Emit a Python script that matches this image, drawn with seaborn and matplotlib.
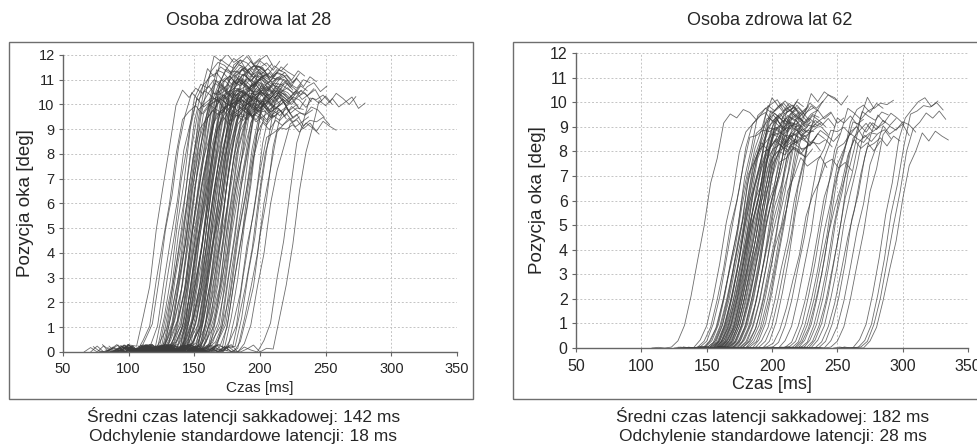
import matplotlib
matplotlib.use('Agg')
import matplotlib.pyplot as plt
import matplotlib.patches as patches
import numpy as np
import pandas as pd
import seaborn as sns

# saccade onset latencies [ms] and final eye position [deg], one per trace
young_onsets = [101, 106, 108, 112, 115, 117, 118, 119, 120, 121,
                122, 123, 123, 124, 125, 125, 126, 127, 127, 128,
                129, 129, 130, 130, 131, 132, 132, 133, 133, 134,
                134, 135, 135, 136, 136, 137, 137, 138, 138, 139,
                139, 140, 140, 141, 141, 142, 142, 143, 143, 144,
                144, 145, 145, 146, 146, 147, 147, 148, 148, 149,
                150, 150, 151, 152, 152, 153, 154, 155, 155, 156,
                157, 158, 159, 160, 161, 162, 163, 164, 165, 166,
                168, 170, 172, 174, 176, 178, 180, 183, 198, 205]
young_amps = [10.5, 9.8, 10.3, 10.0, 10.8, 11.0, 10.2, 9.6, 11.3, 10.6,
              10.1, 11.5, 9.9, 10.4, 11.8, 10.0, 10.7, 9.5, 11.2, 10.3,
              10.9, 9.7, 11.6, 10.2, 10.5, 9.4, 11.0, 10.8, 10.1, 11.4,
              9.9, 10.6, 11.7, 10.3, 9.8, 11.1, 10.4, 10.0, 11.3, 9.6,
              10.7, 10.2, 11.5, 9.9, 10.9, 10.4, 11.2, 9.7, 10.6, 10.1,
              11.0, 10.3, 9.5, 10.8, 11.4, 10.0, 10.5, 9.8, 11.1, 10.2,
              10.7, 9.6, 11.3, 10.4, 9.9, 10.9, 10.1, 11.0, 9.4, 10.6,
              10.3, 9.8, 11.2, 10.0, 10.5, 9.2, 10.8, 10.2, 9.6, 10.4,
              10.9, 9.0, 10.3, 9.7, 10.6, 9.3, 10.1, 9.1, 10.2, 10.0]

old_onsets = [123, 140, 143, 145, 147, 148, 149, 150, 151, 152,
              152, 153, 154, 154, 155, 155, 156, 156, 157, 157,
              158, 158, 159, 159, 160, 160, 161, 161, 162, 162,
              163, 163, 164, 164, 165, 165, 166, 167, 167, 168,
              169, 170, 170, 171, 172, 173, 174, 175, 176, 177,
              178, 180, 181, 183, 185, 187, 190, 193, 196, 200,
              205, 210, 213, 215, 217, 218, 220, 222, 224, 226,
              228, 230, 233, 236, 240, 245, 262, 266, 268, 270]
old_amps = [9.5, 9.3, 8.8, 9.6, 8.2, 9.1, 9.8, 8.5, 9.2, 8.9,
            9.7, 8.3, 9.4, 9.0, 8.6, 9.9, 8.1, 9.3, 8.7, 9.5,
            9.1, 8.4, 9.8, 8.8, 9.2, 8.0, 9.6, 8.9, 9.3, 8.5,
            9.7, 8.2, 9.0, 9.4, 8.6, 9.1, 7.9, 9.5, 8.8, 9.2,
            8.4, 9.6, 8.7, 9.3, 8.1, 9.0, 9.8, 8.5, 9.2, 7.5,
            8.9, 9.4, 8.3, 9.1, 10.2, 8.6, 9.3, 10.1, 7.4, 8.8,
            9.2, 8.5, 9.5, 8.7, 9.0, 8.2, 9.7, 8.9, 9.4, 8.6,
            9.9, 9.1, 8.4, 9.3, 8.8, 9.0, 9.9, 9.8, 9.4, 8.6]

# normalised saccade profile sampled every 5 ms, relative to onset
young_t = list(range(-35, 80, 5))
young_profile = [0, 0, 0, 0, 0, 0, 0,
                 0, 0.03, 0.12, 0.27, 0.45, 0.63, 0.80, 0.93, 1.0,
                 1.0, 1.0, 1.0, 1.0, 1.0, 1.0, 1.0]
old_t = list(range(-15, 70, 5))
old_profile = [0, 0, 0,
               0, 0.03, 0.10, 0.22, 0.37, 0.53, 0.69, 0.83, 0.94, 1.0,
               1.0, 1.0, 1.0, 1.0]
# small fixation jitter [deg]
jitter = [0.00, 0.18, -0.12, 0.25, 0.05, -0.20, 0.12, 0.28, -0.08, 0.15,
          -0.18, 0.22, 0.02, -0.14, 0.20, 0.08, -0.22, 0.16, -0.05, 0.24,
          -0.10, 0.10, 0.30, -0.16, 0.06]

titles = ['Osoba zdrowa lat 28', 'Osoba zdrowa lat 62']
notes_mean = ['Średni czas latencji sakkadowej: 142 ms',
              'Średni czas latencji sakkadowej: 182 ms']
notes_sd = ['Odchylenie standardowe latencji: 18 ms',
            'Odchylenie standardowe latencji: 28 ms']


def build_traces(onsets, amps, t_rel, profile, base_jitter):
    rows = []
    prof = np.array(profile)
    for i, (on, amp) in enumerate(zip(onsets, amps)):
        w = np.roll(jitter, 7 * i)[:len(prof)]
        w = np.where(prof > 0.5, w, w * base_jitter)
        pos = np.maximum(amp * prof + w, 0)
        for t, p in zip(t_rel, pos):
            rows.append({'trace': i, 'czas': on + t, 'poz': p})
    return pd.DataFrame(rows)


sns.set_style('white')
plt.rcParams['font.family'] = ['Liberation Sans', 'DejaVu Sans']

fig = plt.figure(figsize=(9.77, 4.48), dpi=100)

# panel frames
for x0, w in [(0.0092, 0.475), (0.525, 0.48)]:
    fig.add_artist(patches.Rectangle((x0, 0.109), w, 0.797, transform=fig.transFigure,
                                     fill=False, edgecolor='#6e6e6e', lw=1.0))

ax1 = fig.add_axes([0.0645, 0.2143, 0.4033, 0.663])
ax2 = fig.add_axes([0.5896, 0.2232, 0.4012, 0.6585])

df_y = build_traces(young_onsets, young_amps, young_t, young_profile, 1.0)
df_o = build_traces(old_onsets, old_amps, old_t, old_profile, 0.15)

# axes, data, tick size, x tick pad, x label size, x label pad
panels = [(ax1, df_y, 10.5, 4, 11, 4), (ax2, df_o, 11.5, 5, 13, 1)]
for ax, df, tick_fs, xpad, xlab_fs, xlab_pad in panels:
    sns.lineplot(data=df, x='czas', y='poz', units='trace', estimator=None,
                 color='#3c3c3c', alpha=0.75, lw=0.6, ax=ax, legend=False)
    ax.set_xlim(50, 350)
    ax.set_ylim(0, 12)
    ax.set_xticks(range(50, 351, 50))
    ax.set_yticks(range(0, 13))
    ax.grid(True, color='#c4c4c4', linestyle=(0, (2, 2)), lw=0.7)
    for s in ['top', 'right']:
        ax.spines[s].set_visible(False)
    for s in ['left', 'bottom']:
        ax.spines[s].set_color('#666666')
        ax.spines[s].set_linewidth(1.0)
    ax.tick_params(axis='both', length=3, width=0.8, color='#666666',
                   labelsize=tick_fs, direction='out', left=True, bottom=True)
    ax.tick_params(axis='x', pad=xpad)
    ax.tick_params(axis='y', pad=3)
    ax.set_ylabel('Pozycja oka [deg]', fontsize=13.5, labelpad=3)
    ax.set_xlabel('Czas [ms]', fontsize=xlab_fs, labelpad=xlab_pad)

fig.text(0.254, 0.955, titles[0], ha='center', va='center', fontsize=13)
fig.text(0.788, 0.955, titles[1], ha='center', va='center', fontsize=13)
for xc, m, s in [(0.249, notes_mean[0], notes_sd[0]), (0.791, notes_mean[1], notes_sd[1])]:
    fig.text(xc, 1 - 416 / 448, m, ha='center', va='center', fontsize=12.5)
    fig.text(xc, 1 - 436 / 448, s, ha='center', va='center', fontsize=12.5)

fig.savefig('out.png', dpi=100)
